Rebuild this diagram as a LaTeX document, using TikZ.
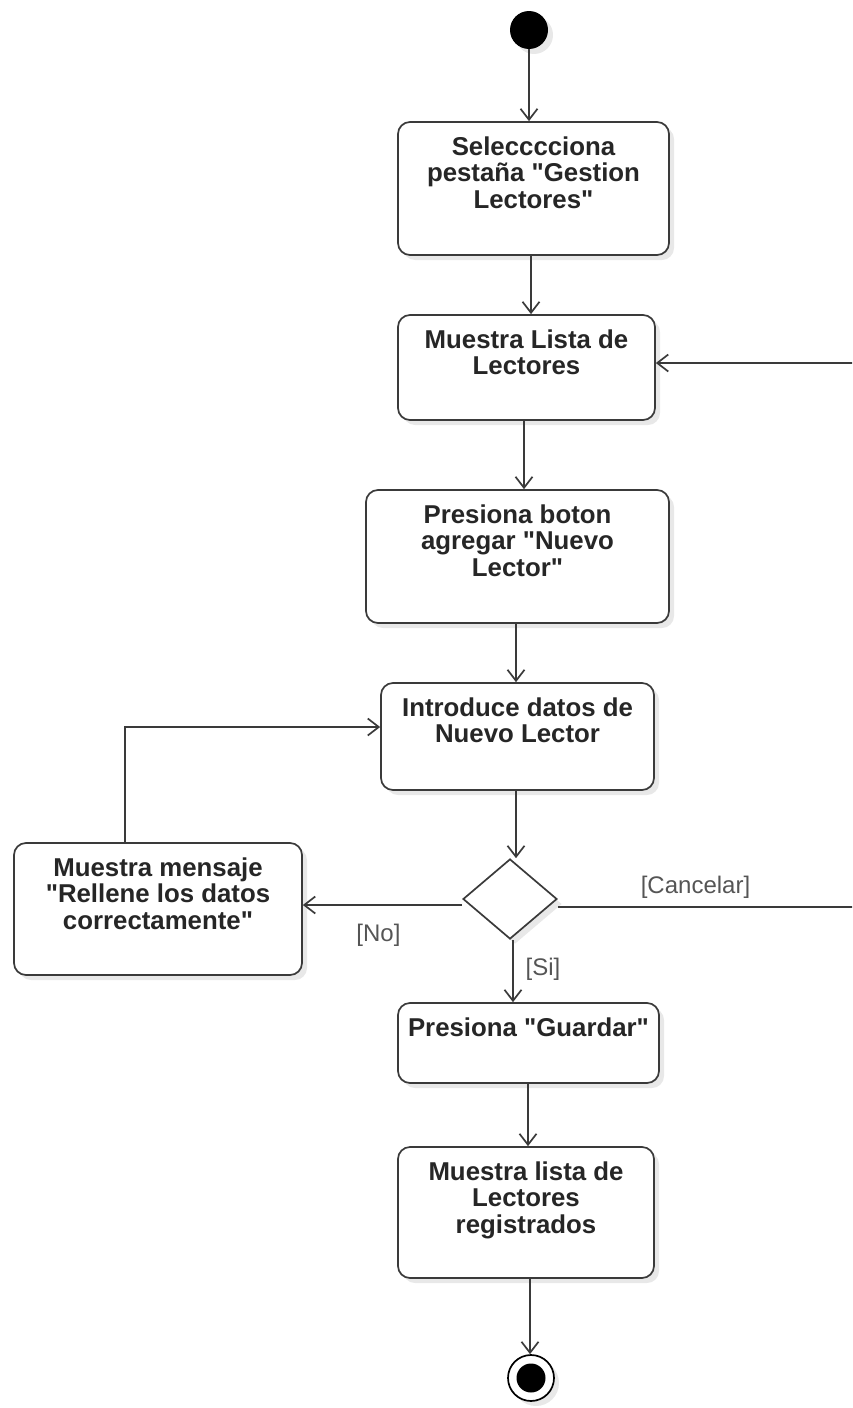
\documentclass[tikz,border=0pt]{standalone}
\usepackage{fontspec}
\setmainfont{Liberation Sans}[Ligatures=TeXOff]
\usetikzlibrary{arrows.meta,shapes.geometric,shadows,calc}
\definecolor{edge}{HTML}{3A3A3A}
\definecolor{lbl}{HTML}{555555}
\tikzset{
  base/.style={draw=edge, line width=1.7pt, fill=white,
    drop shadow={shadow xshift=5pt, shadow yshift=-5pt, fill=black, opacity=0.09}},
  act/.style={base, rectangle, rounded corners=12pt, inner sep=0pt},
  acttext/.style={font=\fontsize{25.8}{26.5}\selectfont\bfseries, align=center,
    text=black!85, inner sep=0pt, anchor=north, yshift=-15pt},
  flow/.style={draw=edge, line width=1.7pt,
    -{Straight Barb[length=11pt,width=17pt,line width=1.7pt]}},
  guard/.style={font=\fontsize{24}{26}\selectfont, text=lbl, inner sep=0pt},
}
\begin{document}
\begin{tikzpicture}[x=1pt,y=-1pt]
\useasboundingbox (0,0) rectangle (852,1408);
\clip (0,0) rectangle (852,1408);

% start and end markers
\node[circle, fill=black, minimum size=38pt, inner sep=0pt,
  drop shadow={shadow xshift=5pt, shadow yshift=-5pt, fill=black, opacity=0.09}] (start) at (529,30) {};
\node[base, circle, draw=black, minimum size=46pt, inner sep=0pt] (stop) at (531,1378) {};
\node[circle, fill=black, minimum size=29pt, inner sep=0pt] (stopdot) at (stop.center) {};

% activities
\node[act, minimum width=271pt, minimum height=133pt] (b1) at (533.5,188.5) {};
\node[acttext] (t1) at (b1.north) {Selecccciona\\pestaña "Gestion\\Lectores"};

\node[act, minimum width=257pt, minimum height=105pt] (b2) at (526.5,367.5) {};
\node[acttext] (t2) at (b2.north) {Muestra Lista de\\Lectores};

\node[act, minimum width=303pt, minimum height=133pt] (b3) at (517.5,556.5) {};
\node[acttext] (t3) at (b3.north) {Presiona boton\\agregar "Nuevo\\Lector"};

\node[act, minimum width=273pt, minimum height=107pt] (b4) at (517.5,736.5) {};
\node[acttext] (t4) at (b4.north) {Introduce datos de\\Nuevo Lector};

\node[act, minimum width=288pt, minimum height=132pt] (b5) at (158,909) {};
\node[acttext] (t5) at (b5.north) {Muestra mensaje\\"Rellene los datos\\correctamente"};

\node[act, minimum width=261pt, minimum height=80pt] (b6) at (528.5,1043) {};
\node[acttext] (t6) at (b6.north) {Presiona "Guardar"};

\node[act, minimum width=256pt, minimum height=131pt] (b7) at (526,1212.5) {};
\node[acttext] (t7) at (b7.north) {Muestra lista de\\Lectores\\registrados};

% decision
\node[base, diamond, minimum width=94pt, minimum height=80pt, inner sep=0pt] (dec) at (510,899) {};

% main flow
\draw[flow] (start) -- (start |- b1.north);
\draw[flow] ([xshift=-2.5pt]b1.south) -- ([xshift=-2.5pt]b1.south |- b2.north);
\draw[flow] ([xshift=-2.5pt]b2.south) -- ([xshift=-2.5pt]b2.south |- b3.north);
\draw[flow] ([xshift=-1.5pt]b3.south) -- ([xshift=-1.5pt]b3.south |- b4.north);
\draw[flow] ([xshift=-1.5pt]b4.south) -- ([xshift=-1.5pt]b4.south |- dec.north);
\draw[flow] ([xshift=3pt]dec.south) -- ([xshift=3pt]dec.south |- b6.north);
\draw[flow] ([xshift=-0.5pt]b6.south) -- ([xshift=-0.5pt]b6.south |- b7.north);
\draw[flow] ([xshift=4pt]b7.south) -- ([xshift=4pt]b7.south |- stop.north);

% branches of the decision
\draw[flow] ([yshift=-6pt]dec.west) -- ([yshift=4pt]b5.east);
\draw[flow] ([xshift=-33pt]b5.north) |- ([yshift=9.5pt]b4.west);
\coordinate (rside) at (880,907);
\draw[flow] ([yshift=-8pt]dec.east) -- (rside) |- ([yshift=4.5pt]b2.east);

% guards
\node[guard] (gno) at (378.5,935) {[No]};
\node[guard] (gcancel) at (695.5,887) {[Cancelar]};
\node[guard] (gsi) at (543,969) {[Si]};
\end{tikzpicture}
\end{document}
